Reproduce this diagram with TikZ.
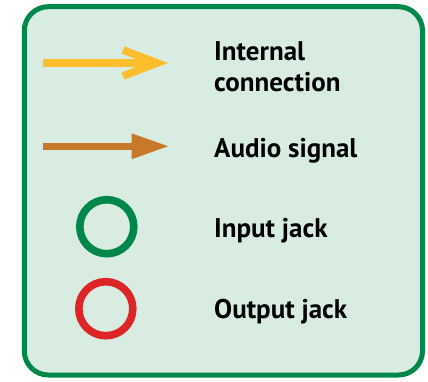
\documentclass[tikz,border=0pt]{standalone}
\usepackage{fontspec}
\setmainfont{PT Sans}
\definecolor{framegreen}{HTML}{00884A}
\definecolor{bggreen}{HTML}{D9ECE2}
\definecolor{yel}{HTML}{FDBE2D}
\definecolor{brn}{HTML}{C8782B}
\definecolor{redj}{HTML}{DD2528}
\tikzset{
  frame/.style={draw=framegreen, line width=5pt, fill=bggreen, rounded corners=24pt},
  lab/.style={anchor=base west, inner sep=0pt, align=left, text=black,
    font=\fontsize{27}{31}\selectfont\bfseries},
  jack/.style={circle, draw=#1, line width=7.6pt, minimum size=54pt, inner sep=0pt}
}
\begin{document}
\begin{tikzpicture}[x=1pt,y=-1pt]
\useasboundingbox (0,0) rectangle (428,381);
\draw[frame] (24.3,6.7) rectangle (422.5,375);
% internal connection arrow
\coordinate (ys) at (43,63);
\coordinate (yt) at (168,63);
\fill[yel] (ys) ++(0,-3.6) rectangle (148,66.6);
\fill[yel] (yt) -- (124.5,46.5) -- (121.5,53.5) -- (146.5,63) -- (121.5,72.5) -- (124.5,79.5) -- cycle;
% audio signal arrow
\coordinate (bs) at (43,146.2);
\coordinate (bt) at (168,146.2);
\fill[brn] (bs) ++(0,-3.7) rectangle (133,149.9);
\fill[brn] (bt) -- (131.5,133.3) -- (131.5,159.3) -- cycle;
% jacks
\node[jack=framegreen] (inj) at (106.8,226.7) {};
\node[jack=redj] (outj) at (105.8,308.7) {};
% labels
\node[lab] (l1) at (214,91.7) {Internal\\connection};
\node[lab] (l2) at (214,157.3) {Audio signal};
\node[lab] (l3) at (214,237.5) {Input jack};
\node[lab] (l4) at (214,318.5) {Output jack};
\end{tikzpicture}
\end{document}
